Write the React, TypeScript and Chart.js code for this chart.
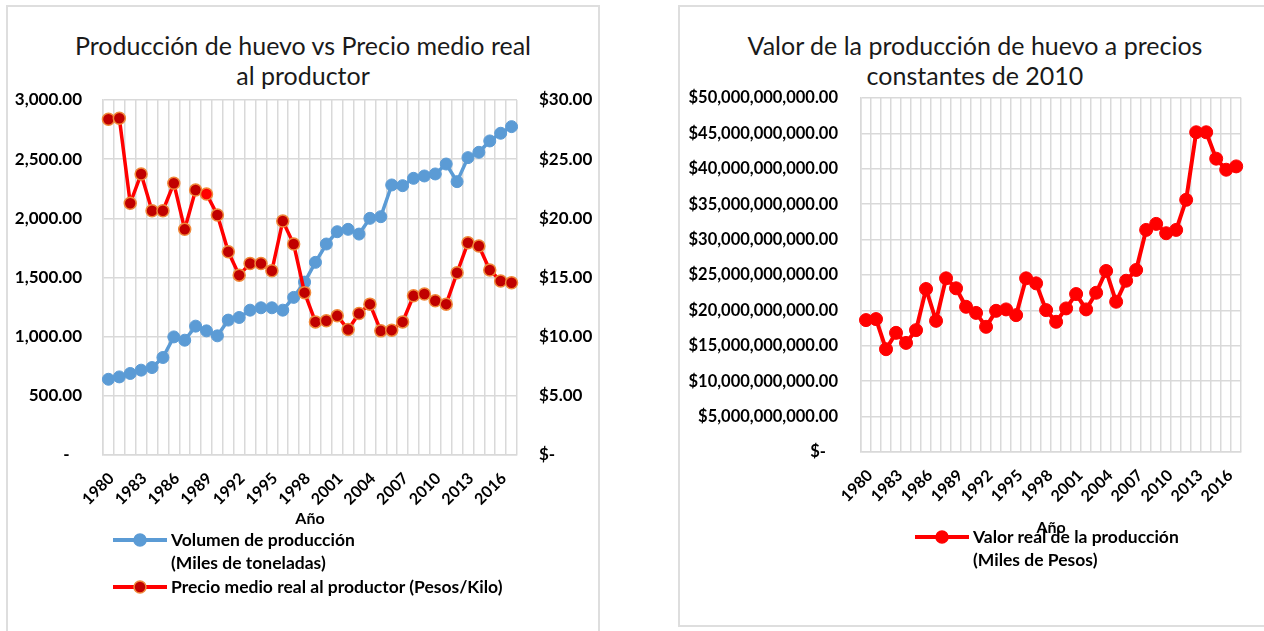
import React, { useEffect, useRef } from 'react';
import { Chart, registerables } from 'chart.js';

Chart.register(...registerables);

const FONT = 'Lato, "Open Sans", sans-serif';
const GRID = '#D9D9D9';

const years = [
  '1980', '1981', '1982', '1983', '1984', '1985', '1986', '1987', '1988', '1989',
  '1990', '1991', '1992', '1993', '1994', '1995', '1996', '1997', '1998', '1999',
  '2000', '2001', '2002', '2003', '2004', '2005', '2006', '2007', '2008', '2009',
  '2010', '2011', '2012', '2013', '2014', '2015', '2016', '2017',
];

// Volumen de producción (Miles de toneladas)
const volumen = [
  640, 660, 689, 717, 739, 824, 998, 970, 1089, 1049,
  1007, 1140, 1162, 1224, 1244, 1244, 1224, 1332, 1461, 1628,
  1783, 1887, 1907, 1867, 2000, 2014, 2282, 2276, 2338, 2358,
  2375, 2459, 2310, 2513, 2558, 2654, 2719, 2775,
];

// Precio medio real al productor (Pesos/Kilo)
const precio = [
  28.38, 28.46, 21.27, 23.75, 20.64, 20.64, 22.96, 19.07, 22.39, 22.06,
  20.28, 17.17, 15.2, 16.19, 16.19, 15.57, 19.77, 17.83, 13.72, 11.25,
  11.34, 11.76, 10.61, 11.96, 12.75, 10.49, 10.55, 11.25, 13.45, 13.6,
  13.03, 12.75, 15.4, 17.94, 17.66, 15.63, 14.7, 14.55,
];

// Valor real de la producción (Miles de Pesos)
const valor = [
  18.63e9, 18.77e9, 14.52e9, 16.83e9, 15.41e9, 17.21e9, 23.02e9, 18.53e9, 24.53e9, 23.12e9,
  20.51e9, 19.65e9, 17.68e9, 19.94e9, 20.14e9, 19.33e9, 24.53e9, 23.82e9, 20.04e9, 18.39e9,
  20.28e9, 22.31e9, 20.14e9, 22.49e9, 25.57e9, 21.22e9, 24.19e9, 25.71e9, 31.37e9, 32.22e9,
  30.9e9, 31.37e9, 35.62e9, 45.16e9, 45.16e9, 41.43e9, 39.87e9, 40.34e9,
];

const fmt2 = (v: number) =>
  v.toLocaleString('en-US', { minimumFractionDigits: 2, maximumFractionDigits: 2 });

const tickFont = (size: number) => ({ family: FONT, size, weight: 'bold' as const });

function LeftChart() {
  const ref = useRef<HTMLCanvasElement>(null);
  useEffect(() => {
    const chart = new Chart(ref.current!, {
      type: 'line',
      data: {
        labels: years,
        datasets: [
          {
            label: 'Precio medio real al productor (Pesos/Kilo)',
            data: precio,
            yAxisID: 'y1',
            borderColor: '#FF0000',
            borderWidth: 3.5,
            pointRadius: 6,
            pointBackgroundColor: precio.map((_, i) => (i === 9 ? '#FF0000' : '#C00000')),
            pointBorderColor: '#F0883A',
            pointBorderWidth: 1.5,
            order: 0,
          },
          {
            label: 'Volumen de producción (Miles de toneladas)',
            data: volumen,
            yAxisID: 'y',
            borderColor: '#5B9BD5',
            borderWidth: 3.5,
            pointRadius: 6,
            pointBackgroundColor: '#5B9BD5',
            pointBorderColor: '#5B9BD5',
            pointBorderWidth: 1,
            order: 1,
          },
        ],
      },
      options: {
        responsive: false,
        animation: false,
        layout: { padding: { top: 94, bottom: 103, left: 0, right: 0 } },
        plugins: { legend: { display: false }, tooltip: { enabled: false }, title: { display: false } },
        scales: {
          x: {
            offset: true,
            grid: { offset: true, color: GRID, lineWidth: 1.5, drawTicks: false },
            border: { color: GRID, width: 1.5 },
            ticks: {
              autoSkip: false,
              maxRotation: 45,
              minRotation: 45,
              padding: 14,
              labelOffset: 3,
              color: '#000',
              font: tickFont(16),
              callback: (_v: any, i: number) => (i % 3 === 0 ? years[i] : ''),
            },
            title: { display: true, text: 'Año', color: '#000', font: tickFont(16), padding: 0 },
            afterFit: (s: any) => { s.height = 73; },
          },
          y: {
            min: 0,
            max: 3000,
            grid: { color: GRID, lineWidth: 1.5, drawTicks: false },
            border: { color: GRID, width: 1.5 },
            ticks: {
              stepSize: 500,
              padding: 21,
              color: '#000',
              font: tickFont(17),
              callback: (v: any) => (Number(v) === 0 ? '-   ' : fmt2(Number(v))),
            },
            afterFit: (s: any) => { s.width = 96; },
          },
          y1: {
            position: 'right',
            min: 0,
            max: 30,
            grid: { display: false, drawTicks: false },
            border: { display: false },
            ticks: {
              stepSize: 5,
              padding: 22,
              color: '#000',
              font: tickFont(17),
              callback: (v: any) => (Number(v) === 0 ? '$-' : '$' + fmt2(Number(v))),
            },
            afterFit: (s: any) => { s.width = 82; },
          },
        },
      },
    } as any);
    return () => chart.destroy();
  }, []);
  return (
    <canvas
      ref={ref}
      width={592}
      height={625}
      style={{ position: 'absolute', left: 7, top: 6, width: 592, height: 625 }}
    />
  );
}

function RightChart() {
  const ref = useRef<HTMLCanvasElement>(null);
  useEffect(() => {
    const chart = new Chart(ref.current!, {
      type: 'line',
      data: {
        labels: years,
        datasets: [
          {
            label: 'Valor real de la producción (Miles de Pesos)',
            data: valor,
            borderColor: '#FF0000',
            borderWidth: 4,
            pointRadius: 6.5,
            pointBackgroundColor: '#FF0000',
            pointBorderColor: '#FF0000',
            pointBorderWidth: 1,
          },
        ],
      },
      options: {
        responsive: false,
        animation: false,
        layout: { padding: { top: 92, bottom: 89, left: 0, right: 17 } },
        plugins: { legend: { display: false }, tooltip: { enabled: false }, title: { display: false } },
        scales: {
          x: {
            offset: true,
            grid: { offset: true, color: GRID, lineWidth: 1.5, drawTicks: false },
            border: { color: GRID, width: 1.5 },
            ticks: {
              autoSkip: false,
              maxRotation: 45,
              minRotation: 45,
              padding: 14,
              labelOffset: 4,
              color: '#000',
              font: tickFont(16),
              callback: (_v: any, i: number) => (i % 3 === 0 ? years[i] : ''),
            },
            title: { display: true, text: 'Año', color: '#000', font: tickFont(16), padding: 0 },
            afterFit: (s: any) => { s.height = 85; },
          },
          y: {
            min: 0,
            max: 50000000000,
            grid: { color: GRID, lineWidth: 1.5, drawTicks: false },
            border: { color: GRID, width: 1.5 },
            ticks: {
              stepSize: 5000000000,
              padding: 23,
              color: '#000',
              font: tickFont(16.5),
              callback: (v: any) => (Number(v) === 0 ? '$-   ' : '$' + fmt2(Number(v))),
            },
            afterFit: (s: any) => { s.width = 182; },
          },
        },
      },
    } as any);
    return () => chart.destroy();
  }, []);
  return (
    <canvas
      ref={ref}
      width={585}
      height={620}
      style={{ position: 'absolute', left: 679, top: 6, width: 585, height: 620 }}
    />
  );
}

function Swatch({ line, fill, stroke }: { line: string; fill: string; stroke: string }) {
  return (
    <svg width={54} height={16} style={{ display: 'block' }}>
      <line x1={0} y1={8} x2={54} y2={8} stroke={line} strokeWidth={4} />
      <circle cx={27} cy={8} r={6} fill={fill} stroke={stroke} strokeWidth={1.5} />
    </svg>
  );
}

const textStyle: React.CSSProperties = {
  position: 'absolute',
  fontFamily: FONT,
  fontWeight: 'bold',
  fontSize: 17.5,
  lineHeight: '23px',
  color: '#000',
  whiteSpace: 'nowrap',
};

const titleStyle: React.CSSProperties = {
  position: 'absolute',
  top: 30,
  width: 592,
  textAlign: 'center',
  fontFamily: FONT,
  fontSize: 25,
  lineHeight: '30px',
  color: '#1A1A1A',
};

export default function App() {
  return (
    <div
      style={{
        position: 'absolute',
        left: 0,
        top: 0,
        width: 1264,
        height: 631,
        background: '#fff',
        overflow: 'hidden',
      }}
    >
      <div
        style={{
          position: 'absolute',
          left: 6,
          top: 5,
          width: 594,
          height: 700,
          border: '2px solid #DEDEDE',
          boxSizing: 'border-box',
        }}
      />
      <div
        style={{
          position: 'absolute',
          left: 678,
          top: 5,
          width: 700,
          height: 622,
          border: '2px solid #DEDEDE',
          boxSizing: 'border-box',
        }}
      />
      <div style={{ ...titleStyle, left: 7 }}>
        Producción de huevo vs Precio medio real
        <br />
        al productor
      </div>
      <div style={{ ...titleStyle, left: 679 }}>
        Valor de la producción de huevo a precios
        <br />
        constantes de 2010
      </div>
      <LeftChart />
      <RightChart />
      {/* Left legend */}
      <div style={{ position: 'absolute', left: 113, top: 532 }}>
        <Swatch line="#5B9BD5" fill="#5B9BD5" stroke="#5B9BD5" />
      </div>
      <div style={{ ...textStyle, left: 171, top: 528 }}>
        Volumen de producción
        <br />
        (Miles de toneladas)
      </div>
      <div style={{ position: 'absolute', left: 113, top: 579 }}>
        <Swatch line="#FF0000" fill="#C00000" stroke="#F0883A" />
      </div>
      <div style={{ ...textStyle, left: 171, top: 575 }}>
        Precio medio real al productor (Pesos/Kilo)
      </div>
      {/* Right legend */}
      <div style={{ position: 'absolute', left: 915, top: 529 }}>
        <Swatch line="#FF0000" fill="#FF0000" stroke="#FF0000" />
      </div>
      <div style={{ ...textStyle, left: 973, top: 525 }}>
        Valor real de la producción
        <br />
        (Miles de Pesos)
      </div>
    </div>
  );
}
